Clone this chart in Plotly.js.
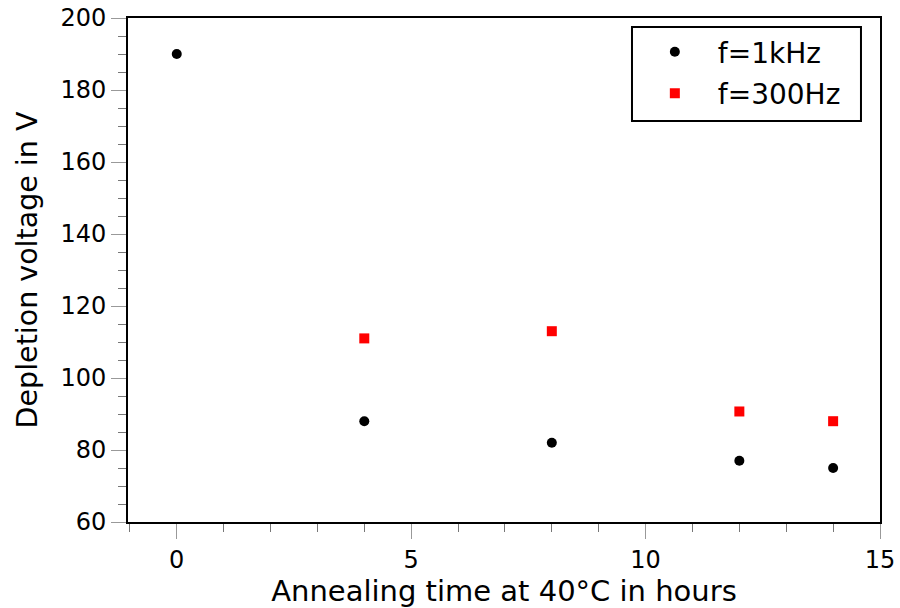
<!DOCTYPE html>
<html>
<head>
<meta charset="utf-8">
<script src="https://cdn.plot.ly/plotly-3.0.1.min.js"></script>
<style>html,body{margin:0;padding:0;background:#fff;}#chart{width:900px;height:608px;}</style>
</head>
<body>
<div id="chart"></div>
<script>
const hours1k = [0, 4, 8, 12, 14];
const volt1k = [190, 88, 82, 77, 75];
const hours300 = [4, 8, 12, 14];
const volt300 = [111, 113, 90.7, 88];
const seriesNames = ["f=1kHz", "f=300Hz"];

const font = "DejaVu Sans, sans-serif";

const traces = [
  {x: hours1k, y: volt1k, mode: "markers", type: "scatter", name: seriesNames[0],
   legendgroup: "a",
   marker: {symbol: "circle", size: 10, color: "black"}},
  {x: hours300, y: volt300, mode: "markers", type: "scatter", name: seriesNames[1],
   legendgroup: "b",
   marker: {symbol: "square", size: 10, color: "#ff0000"}}
];

const layout = {
  width: 900, height: 608,
  margin: {l: 128, r: 20, t: 18, b: 86},
  paper_bgcolor: "white", plot_bgcolor: "white",
  font: {family: font, color: "black", size: 24},
  showlegend: true,
  legend: {
    x: 0.670, y: 0.982, xanchor: "left", yanchor: "top",
    bgcolor: "rgba(0,0,0,0)", borderwidth: 0,
    font: {family: font, size: 28, color: "black"},
    traceorder: "grouped", tracegroupgap: 2,
    itemwidth: 76
  },
  shapes: [{
    type: "rect", xref: "paper", yref: "paper",
    x0: 0.6702, x1: 0.9747, y0: 0.7956, y1: 0.9821,
    line: {color: "black", width: 2}, fillcolor: "white", layer: "below"
  }],
  xaxis: {
    range: [-1.04, 15], showgrid: false, zeroline: false,
    showline: true, linecolor: "black", linewidth: 2, mirror: true,
    ticks: "outside", ticklen: 15, tickwidth: 1, tickcolor: "#999",
    tickvals: [0, 5, 10, 15], ticktext: ["0", "5", "10", "15"],
    tickfont: {family: font, size: 24},
    minor: {dtick: 1, ticks: "outside", ticklen: 8, tickwidth: 1, tickcolor: "#777", showgrid: false},
    title: {text: "Annealing time at 40°C in hours", font: {family: font, size: 29}, standoff: 6}
  },
  yaxis: {
    range: [60, 200], showgrid: false, zeroline: false,
    showline: true, linecolor: "black", linewidth: 2, mirror: true,
    ticks: "outside", ticklen: 15, tickwidth: 1, tickcolor: "#999",
    dtick: 20,
    tickfont: {family: font, size: 24},
    minor: {dtick: 5, ticks: "outside", ticklen: 8, tickwidth: 1, tickcolor: "#777", showgrid: false},
    title: {text: "Depletion voltage in V", font: {family: font, size: 28.5}, standoff: 14}
  }
};

Plotly.newPlot("chart", traces, layout, {displayModeBar: false, staticPlot: true});
</script>
</body>
</html>
